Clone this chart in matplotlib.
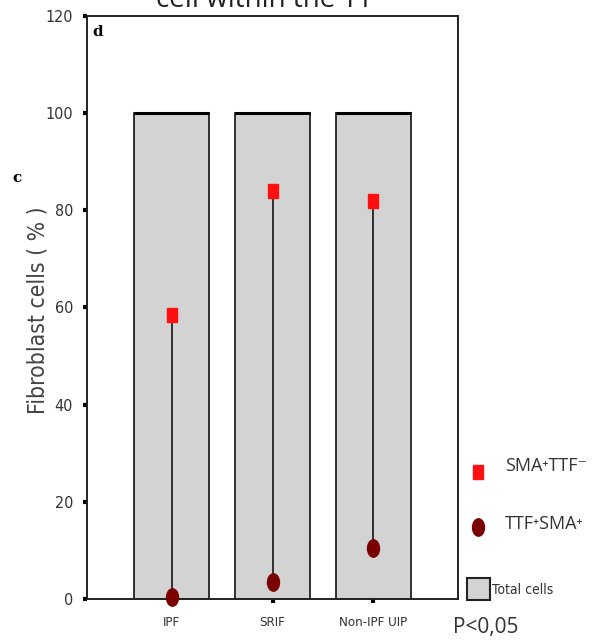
import matplotlib
matplotlib.use('Agg')
import matplotlib.pyplot as plt
import numpy as np
from matplotlib.markers import MarkerStyle
from matplotlib.transforms import Affine2D
from matplotlib.patches import Rectangle

groups = ['IPF', 'SRIF', 'Non-IPF UIP']
total_cells = [100, 100, 100]
sma_pos_ttf_neg = [58.5, 84.0, 82.0]
ttf_pos_sma_pos = [0.5, 3.5, 10.5]
y_ticks = [0, 20, 40, 60, 80, 100, 120]

SANS = ['Open Sans', 'DejaVu Sans']
TXT = '#333333'


def narrow(t, size):
    # condensed look used by the axis labels of the original
    t.set_family('DejaVu Sans')
    t.set_stretch('condensed')
    t.set_fontsize(size)
    t.set_color(TXT)


fig = plt.figure(figsize=(5.97, 6.40), dpi=100)
ax = fig.add_axes([0.1457, 0.0641, 0.6215, 0.9109])

x = np.arange(len(groups))
ax.bar(x, total_cells, width=0.75, color='#d3d3d3', edgecolor='#222222',
       linewidth=1.3, zorder=1)
# thicker top edge on each bar
ax.hlines(total_cells, x - 0.375, x + 0.375, color='black', lw=2.2, zorder=2)

ax.vlines(x, ttf_pos_sma_pos, sma_pos_ttf_neg, color='#222222', lw=1.3, zorder=3)

sq = MarkerStyle('s', transform=Affine2D().scale(0.7, 1.0))
ov = MarkerStyle('o', transform=Affine2D().scale(0.69, 1.0))
ax.plot(x, sma_pos_ttf_neg, ls='none', marker=sq, ms=9.6, color='#ff1010',
        mec='#ff1010', zorder=4)
ax.plot(x, ttf_pos_sma_pos, ls='none', marker=ov, ms=12.5, color='#7a0000',
        mec='#7a0000', zorder=4, clip_on=False)

ax.set_xlim(-0.84, 2.84)
ax.set_ylim(0, 120)
ax.set_yticks(y_ticks)
ax.set_xticks(x)
ax.set_xticklabels(groups)
for lbl in ax.get_yticklabels():
    narrow(lbl, 11.5)
for lbl in ax.get_xticklabels():
    narrow(lbl, 9.5)
ax.tick_params(axis='both', direction='out', length=3, width=3, color='black', pad=7)
ax.tick_params(axis='x', pad=9)
for s in ax.spines.values():
    s.set_linewidth(1.4)
    s.set_color('#222222')

ax.text(0.015, 0.985, 'd', transform=ax.transAxes, ha='left', va='top',
        fontsize=11, fontweight='bold', family='DejaVu Serif')

fig.text(12 / 597, 1 - 178 / 640, 'c', ha='left', va='center', fontsize=11,
         fontweight='bold', family='DejaVu Serif')
ylab = fig.text(38 / 597, 1 - 310 / 640, 'Fibroblast cells ( % )',
                rotation=90, ha='center', va='center')
narrow(ylab, 16.5)
ylab.set_color('#444444')
fig.text(264 / 597, 1 - 7 / 640, 'cell within the TT', ha='center', va='baseline',
         fontsize=20, family=SANS, color='#222222')

# legend drawn on an overlay in pixel units
lg = fig.add_axes([0, 0, 1, 1], facecolor='none')
lg.set_xlim(0, 597)
lg.set_ylim(640, 0)
lg.axis('off')
lg.plot([478], [472], ls='none', marker=sq, ms=9.6, color='#ff1010')
lg.plot([478], [527], ls='none', marker=ov, ms=12.5, color='#7a0000')
lg.add_patch(Rectangle((467, 578), 23, 22, facecolor='#d3d3d3',
                       edgecolor='#222222', lw=1.5))
lg.text(505, 466, 'SMA\u207aTTF\u207b', ha='left', va='center', fontsize=13,
        family=SANS, color=TXT)
lg.text(505, 524, 'TTF\u207aSMA\u207a', ha='left', va='center', fontsize=13,
        family=SANS, color=TXT)
tc = lg.text(492, 590, 'Total cells', ha='left', va='center')
narrow(tc, 10)
lg.text(453, 627, 'P<0,05', ha='left', va='center', fontsize=15,
        family=SANS, color=TXT)

fig.savefig('out.png', dpi=100)
